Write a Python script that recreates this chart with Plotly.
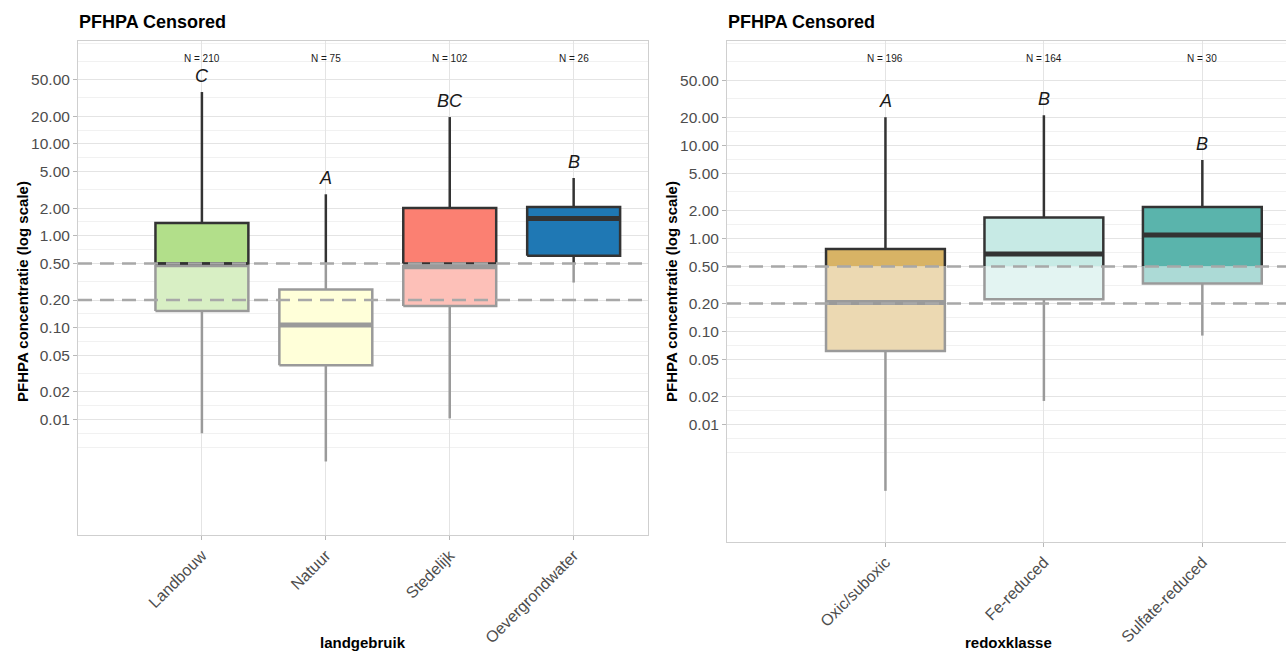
import plotly.graph_objects as go
import math

# ---------------- data ----------------
CENSOR = 0.5
REF_LINES = [0.5, 0.2]
Y_TICKS = [0.01, 0.02, 0.05, 0.1, 0.2, 0.5, 1, 2, 5, 10, 20, 50]
Y_TICK_TEXT = ["0.01", "0.02", "0.05", "0.10", "0.20", "0.50", "1.00", "2.00", "5.00", "10.00", "20.00", "50.00"]

land_cats = ["Landbouw", "Natuur", "Stedelijk", "Oevergrondwater"]
land_lo = [0.0071, 0.0035, 0.0103, 0.31]
land_q1 = [0.152, 0.039, 0.172, 0.605]
land_med = [0.5, 0.107, 0.46, 1.54]
land_q3 = [1.38, 0.26, 2.01, 2.06]
land_hi = [36.7, 2.83, 19.6, 4.26]
land_n = [210, 75, 102, 26]
land_letters = ["C", "A", "BC", "B"]
land_colors = ["#b2df8a", "#ffffb3", "#fb8072", "#1f78b4"]

redox_cats = ["Oxic/suboxic", "Fe-reduced", "Sulfate-reduced"]
redox_lo = [0.00195, 0.018, 0.0906]
redox_q1 = [0.062, 0.223, 0.328]
redox_med = [0.205, 0.68, 1.09]
redox_q3 = [0.77, 1.68, 2.18]
redox_hi = [20.0, 21.0, 6.97]
redox_n = [196, 164, 30]
redox_letters = ["A", "B", "B"]
redox_colors = ["#d8b365", "#c7eae5", "#5ab4ac"]

# ---------------- style ----------------
FONT = "Liberation Sans, Arial, Helvetica, sans-serif"
DARK = "#333333"
GREY = "#9a9a9a"
W = 0.375
W_OUT = 2.5
W_MED = 5
W_WHISK = 2.5
Y_RANGE = [-3.256, 2.12]
W_PX, H_PX = 1286, 653


def blend(hexc, a=0.5):
    h = hexc.lstrip("#")
    r, g, b = (int(h[i:i + 2], 16) for i in (0, 2, 4))
    r, g, b = (round(a * c + (1 - a) * 255) for c in (r, g, b))
    return f"rgb({r},{g},{b})"


fig = go.Figure()


def seg(x, y, color, width, xa, ya):
    fig.add_trace(go.Scatter(x=x, y=y, mode="lines", xaxis=xa, yaxis=ya,
                             line=dict(color=color, width=width),
                             hoverinfo="skip", showlegend=False))


def rect(i, y0, y1, fill, xa, ya):
    fig.add_trace(go.Scatter(x=[i - W, i + W, i + W, i - W, i - W],
                             y=[y0, y0, y1, y1, y0], mode="lines",
                             fill="toself", fillcolor=fill,
                             line=dict(width=0, color=fill),
                             xaxis=xa, yaxis=ya, hoverinfo="skip",
                             showlegend=False))


def whisker(i, a, b, xa, ya):
    lo_, hi_ = min(a, b), max(a, b)
    if lo_ < CENSOR:
        seg([i, i], [lo_, min(hi_, CENSOR)], GREY, W_WHISK, xa, ya)
    if hi_ > CENSOR:
        seg([i, i], [max(lo_, CENSOR), hi_], DARK, W_WHISK, xa, ya)


def panel(cats, lo, q1, med, q3, hi, colors, xa, ya, closed, cens_top):
    for i in range(len(cats)):
        whisker(i, lo[i], q1[i], xa, ya)
        whisker(i, q3[i], hi[i], xa, ya)
        # uncensored (upper) part
        if q3[i] > CENSOR:
            bot = max(q1[i], CENSOR)
            rect(i, bot, q3[i], colors[i], xa, ya)
            if closed or q1[i] > CENSOR:
                seg([i - W, i + W, i + W, i - W, i - W],
                    [bot, bot, q3[i], q3[i], bot], DARK, W_OUT, xa, ya)
            else:
                seg([i - W, i - W, i + W, i + W], [bot, q3[i], q3[i], bot],
                    DARK, W_OUT, xa, ya)
        # censored (lower) part
        if q1[i] < CENSOR:
            top = min(q3[i], cens_top)
            rect(i, q1[i], top, blend(colors[i]), xa, ya)
            if closed or q3[i] < CENSOR:
                seg([i - W, i + W, i + W, i - W, i - W],
                    [q1[i], q1[i], top, top, q1[i]], GREY, W_OUT, xa, ya)
            else:
                seg([i - W, i - W, i + W, i + W], [top, q1[i], q1[i], top],
                    GREY, W_OUT, xa, ya)
        # median
        seg([i - W, i + W], [med[i], med[i]],
            DARK if med[i] >= CENSOR else GREY,
            W_OUT if med[i] == CENSOR else W_MED, xa, ya)


panel(land_cats, land_lo, land_q1, land_med, land_q3, land_hi, land_colors,
      "x", "y", True, 0.47)
panel(redox_cats, redox_lo, redox_q1, redox_med, redox_q3, redox_hi, redox_colors,
      "x2", "y2", False, CENSOR)

# annotations: N and letters
ann = []
for cats, ns, letters, hi, xr, yr in [
    (land_cats, land_n, land_letters, land_hi, "x", "y"),
    (redox_cats, redox_n, redox_letters, redox_hi, "x2", "y2"),
]:
    for i in range(len(cats)):
        ann.append(dict(x=i, y=math.log10(85), xref=xr, yref=yr, text=f"N = {ns[i]}",
                        showarrow=False, font=dict(size=10, color="#1a1a1a", family=FONT),
                        xanchor="center", yanchor="middle"))
        ann.append(dict(x=i, y=math.log10(hi[i] * 1.5), xref=xr, yref=yr,
                        text=f"<i>{letters[i]}</i>", showarrow=False,
                        font=dict(size=18, color="#1a1a1a", family=FONT),
                        xanchor="center", yanchor="middle"))

# titles
for xpx, label in [(77, "PFHPA Censored"), (726, "PFHPA Censored")]:
    ann.append(dict(x=xpx / W_PX, y=1 - 22 / H_PX, xref="paper", yref="paper",
                    text=f"<b>{label}</b>", showarrow=False, xanchor="left", yanchor="middle",
                    font=dict(size=18, color="#000000", family=FONT)))
for xpx, ypx, label in [(363, 642, "landgebruik"), (1008, 642, "redoxklasse")]:
    ann.append(dict(x=xpx / W_PX, y=1 - ypx / H_PX, xref="paper", yref="paper",
                    text=f"<b>{label}</b>", showarrow=False, xanchor="center", yanchor="middle",
                    font=dict(size=15, color="#000000", family=FONT)))
for xpx, ypx in [(22, 292), (671, 292)]:
    ann.append(dict(x=xpx / W_PX, y=1 - ypx / H_PX, xref="paper", yref="paper",
                    text="<b>PFHPA concentratie (log scale)</b>", showarrow=False,
                    textangle=-90, xanchor="center", yanchor="middle",
                    font=dict(size=15, color="#000000", family=FONT)))

# reference lines
shapes = []
for xr, yr in [("x", "y"), ("x2", "y2")]:
    for v in REF_LINES:
        shapes.append(dict(type="line", xref=f"{xr} domain", yref=yr, x0=0, x1=1,
                           y0=v, y1=v, layer="above",
                           line=dict(color="#a8a8a8", width=2.5, dash="14px,8px")))

# minor grid (midpoints in log space, extended one step beyond)
logs = [math.log10(v) for v in Y_TICKS]
ext = [2 * logs[0] - logs[1]] + logs + [2 * logs[-1] - logs[-2]]
minor_vals = [10 ** l for l in ext] + [10 ** ((a + b) / 2) for a, b in zip(ext[:-1], ext[1:])]

GRID = "#e4e4e4"
MINOR = "#f1f1f1"
FRAME = "#cfcfcf"
TICKC = "#4d4d4d"


def yaxis(domain, anchor, mirror):
    return dict(type="log", range=Y_RANGE, domain=domain, anchor=anchor,
                tickmode="array", tickvals=Y_TICKS, ticktext=Y_TICK_TEXT,
                showgrid=True, gridcolor=GRID, gridwidth=1,
                minor=dict(tickmode="array", tickvals=minor_vals, showgrid=True,
                           gridcolor=MINOR, gridwidth=1, ticks=""),
                ticks="outside", ticklen=4, tickcolor="#b8b8b8", tickwidth=1,
                tickfont=dict(size=15.5, color=TICKC, family=FONT),
                showline=True, linecolor=FRAME, linewidth=1, mirror=mirror,
                zeroline=False)


def xaxis(domain, anchor, cats, rng):
    return dict(domain=domain, anchor=anchor, range=rng,
                tickmode="array", tickvals=list(range(len(cats))), ticktext=cats,
                tickangle=-45, showgrid=True, gridcolor=GRID, gridwidth=1,
                ticks="outside", ticklen=4, tickcolor="#b8b8b8", tickwidth=1,
                tickfont=dict(size=16, color=TICKC, family=FONT),
                showline=True, linecolor=FRAME, linewidth=1, mirror=True,
                zeroline=False)


fig.update_layout(
    width=W_PX, height=H_PX,
    margin=dict(l=0, r=0, t=0, b=0),
    paper_bgcolor="white", plot_bgcolor="white",
    showlegend=False,
    xaxis=xaxis([78 / W_PX, 648 / W_PX], "y", land_cats, [-1.0, 3.6]),
    yaxis=yaxis([1 - 535 / H_PX, 1 - 41 / H_PX], "x", True),
    xaxis2=xaxis([727 / W_PX, 1.0], "y2", redox_cats, [-1.0, (1286 - 884.3) / 158.9]),
    yaxis2=yaxis([1 - 541.7 / H_PX, 1 - 41 / H_PX], "x2", False),
    annotations=ann,
    shapes=shapes,
    font=dict(family=FONT),
)

fig.write_html(
    "out.html",
    config={"displayModeBar": False},
    post_script="document.body.style.margin='0';document.body.style.overflow='hidden';",
)
